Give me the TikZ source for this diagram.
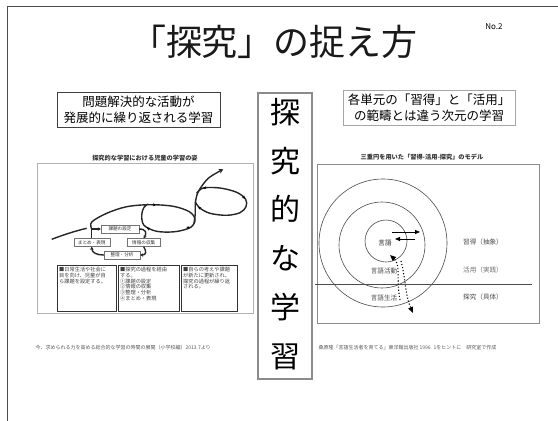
\documentclass[tikz,border=0pt]{standalone}
\usepackage{fontspec}
\setmainfont{Noto Sans CJK JP}
\usetikzlibrary{arrows.meta,shapes.geometric}
\begin{document}
\begin{tikzpicture}[x=1pt,y=-1pt,
  hdrbox/.style={align=center,inner sep=1pt,font=\fontsize{12.5}{16.5}\selectfont},
  cyc/.style={draw=black!55,line width=0.4pt,inner sep=0.5pt,minimum height=8pt,font=\fontsize{4.6}{5}\selectfont,text=black!80,fill=white},
  boxtxt/.style={font=\fontsize{5.2}{5.8}\selectfont,text=black!75,align=left,anchor=north west,inner sep=0pt},
  lbl/.style={font=\fontsize{6.6}{7}\selectfont,text=black!70},
  spiral/.style={line width=1.4pt,black!85},
  tick/.style={black,-{Stealth[length=3pt,width=3pt]}},
  foot/.style={font=\fontsize{5}{6}\selectfont,text=black!65},
  captxt/.style={font=\fontsize{6.2}{7}\selectfont\bfseries,text=black!80}]
\useasboundingbox (0,0) rectangle (558,421);
\fill[white] (0,0) rectangle (558,421);
\draw[black!70,line width=0.8pt] (7,421) -- (7,6) -- (558,6);

\node[font=\fontsize{36}{38}\selectfont,text=black!90] (title) at (274,42) {「探究」の捉え方};
\node[font=\fontsize{8}{9}\selectfont] (no) at (494,27) {No.2};

\node[hdrbox,draw=black!75,line width=0.8pt,minimum width=163pt,minimum height=35pt] (lbox) at (138.5,109.5) {問題解決的な活動が\\発展的に繰り返される学習};
\node[hdrbox,draw=black!35,line width=0.8pt,minimum width=172pt,minimum height=35pt] (rbox) at (429,107.5) {各単元の「習得」と「活用」\\の範疇とは違う次元の学習};

\node[draw=black!45,line width=2.5pt,minimum width=54pt,minimum height=286pt] (cbox) at (285,236) {};
\node[font=\fontsize{30}{48.8}\selectfont,align=center] (ctext) at (285,234) {探\\究\\的\\な\\学\\習};

% left diagram
\node[captxt] (lcap) at (145,158) {探究的な学習における児童の学習の姿};
\draw[black!30,line width=0.6pt] (37,163) rectangle (253,313);

\node[cyc,minimum width=38pt] (kadai) at (120,229) {課題の設定};
\node[cyc,minimum width=36pt] (matome) at (91.7,242.5) {まとめ・表現};
\node[cyc,minimum width=33pt] (joho) at (143.7,242.5) {情報の収集};
\node[cyc,minimum width=36pt] (seiri) at (122,255) {整理・分析};

\coordinate (ent1) at (51.7,239.3);
\coordinate (ent2) at (86.7,228.3);
\draw[spiral] (ent1) .. controls (63,235) and (75,231) .. (ent2);
\coordinate (up) at (91.7,229);
\draw[spiral] (matome.north -| up) -- (up);
\draw[spiral,-{Stealth[length=3pt,width=3.5pt]}] (up) .. controls (92,229) and (95,229) .. (kadai.west);
\draw[spiral,-{Stealth[length=3pt,width=3.5pt]}] (kadai.east) .. controls (146,229) and (147,233) .. (joho.north);
\draw[spiral,-{Stealth[length=3pt,width=3.5pt]}] (joho.south) .. controls (147,252) and (146,255) .. (seiri.east);
\draw[spiral,-{Stealth[length=3pt,width=3.5pt]}] (seiri.west) .. controls (97,255) and (92,253) .. (matome.south -| up);
\draw[spiral] plot[smooth,tension=0.55] coordinates {(up) (91.7,222) (106.7,213.3) (126.7,206.7) (150,204.7) (173.3,206.3) (189.3,211.7) (195,219.3) (190.7,227.3) (175,231.7) (156.7,231.3) (144,225.3) (141.7,215) (144,207.3) (148.3,204)};
\draw[spiral,-{Stealth[length=4.5pt,width=5pt]}] plot[smooth,tension=0.55] coordinates {(194,223.3) (195.3,213.3) (195.3,203.3) (198.3,191.7) (208.3,178.3) (223.3,169.3)};
\draw[spiral] plot[smooth,tension=0.55] coordinates {(196.7,193.3) (203.3,188) (220,188) (236.7,192.3) (245.7,199.3) (246,206.7) (240,212.7) (226.7,215.3) (210,213.3) (199.3,207.7) (195.3,201.7)};
\draw[tick] (152,204.8) -- (156,205);
\draw[tick] (206,187.7) -- (203,188.2);
\draw[tick] (243,196.5) -- (245,198.8);
\draw[tick] (200,208.5) -- (198.5,206.5);
\draw[tick] (149,229) -- (147,227.5);
\draw[tick] (187,228.3) -- (189.5,226.5);

\node[draw=black!80,line width=0.5pt,minimum width=59pt,minimum height=46pt,anchor=north west] (b1) at (57,265) {};
\node[draw=black!80,line width=0.5pt,minimum width=61pt,minimum height=46pt,anchor=north west] (b2) at (118,265) {};
\node[draw=black!80,line width=0.5pt,minimum width=56pt,minimum height=46pt,anchor=north west] (b3) at (181,265) {};
\node[boxtxt] (t1) at ([shift={(2,2)}]b1.north west) {■日常生活や社会に\\目を向け、児童が自\\ら課題を設定する。};
\node[boxtxt] (t2) at ([shift={(2,2)}]b2.north west) {■探究の過程を経由\\する。\\①課題の設定\\②情報の収集\\③整理・分析\\④まとめ・表現};
\node[boxtxt] (t3) at ([shift={(2,2)}]b3.north west) {■自らの考えや課題\\が新たに更新され、\\探究の過程が繰り返\\される。};

% right diagram
\node[captxt] (rcap) at (422,157) {三重円を用いた「習得-活用-探究」のモデル};
\draw[black!45,line width=0.8pt] (317,164) rectangle (539,323);
\draw[black!70,line width=0.6pt] (383,243) circle[radius=64];
\draw[black!70,line width=0.6pt] (382,245) circle[radius=43];
\draw[black!70,line width=0.6pt] (386,241) circle[radius=21];
\draw[black!70,line width=0.6pt] (315,284) -- (532,284);

\node[lbl,text=black!85] (gengo) at (385,243) {言語};
\node[lbl] (katsudo) at (384,271) {言語活動};
\node[lbl] (seikatsu) at (384,298) {言語生活};
\node[lbl] (shutoku) at (483,242) {習得（抽象）};
\node[lbl,text=black!55] (katsuyo) at (483,270) {活用（実践）};
\node[lbl] (tankyu) at (483,297) {探究（具体）};

\coordinate (a1s) at (392,232); \coordinate (a1e) at (420,232);
\coordinate (a2s) at (415,239); \coordinate (a2e) at (395,239);
\draw[line width=0.8pt,-{Triangle[length=5pt,width=4pt]}] (a1s) -- (a1e);
\draw[line width=0.8pt,-{Triangle[length=5pt,width=4pt]}] (a2s) -- (a2e);

\coordinate (d1s) at (400,300); \coordinate (d1e) at (390,255);
\coordinate (d2s) at (401,261); \coordinate (d2e) at (413,313);
\draw[line width=1.1pt,dotted,-{Triangle[length=6pt,width=5pt]}] (d1s) .. controls (396,280) and (401,265) .. (d1e);
\draw[line width=1.1pt,dotted,-{Triangle[length=6pt,width=5pt]}] (d2s) .. controls (406,280) and (405,295) .. (d2e);

% footnotes
\node[foot,anchor=west] (f1) at (32,348) {今、求められる力を高める総合的な学習の時間の展開（小学校編）2013.7より};
\node[foot,anchor=west] (f2) at (315,348) {桑原隆「言語生活者を育てる」東洋館出版社 1996. 1をヒントに　研究室で作成};
\end{tikzpicture}
\end{document}
